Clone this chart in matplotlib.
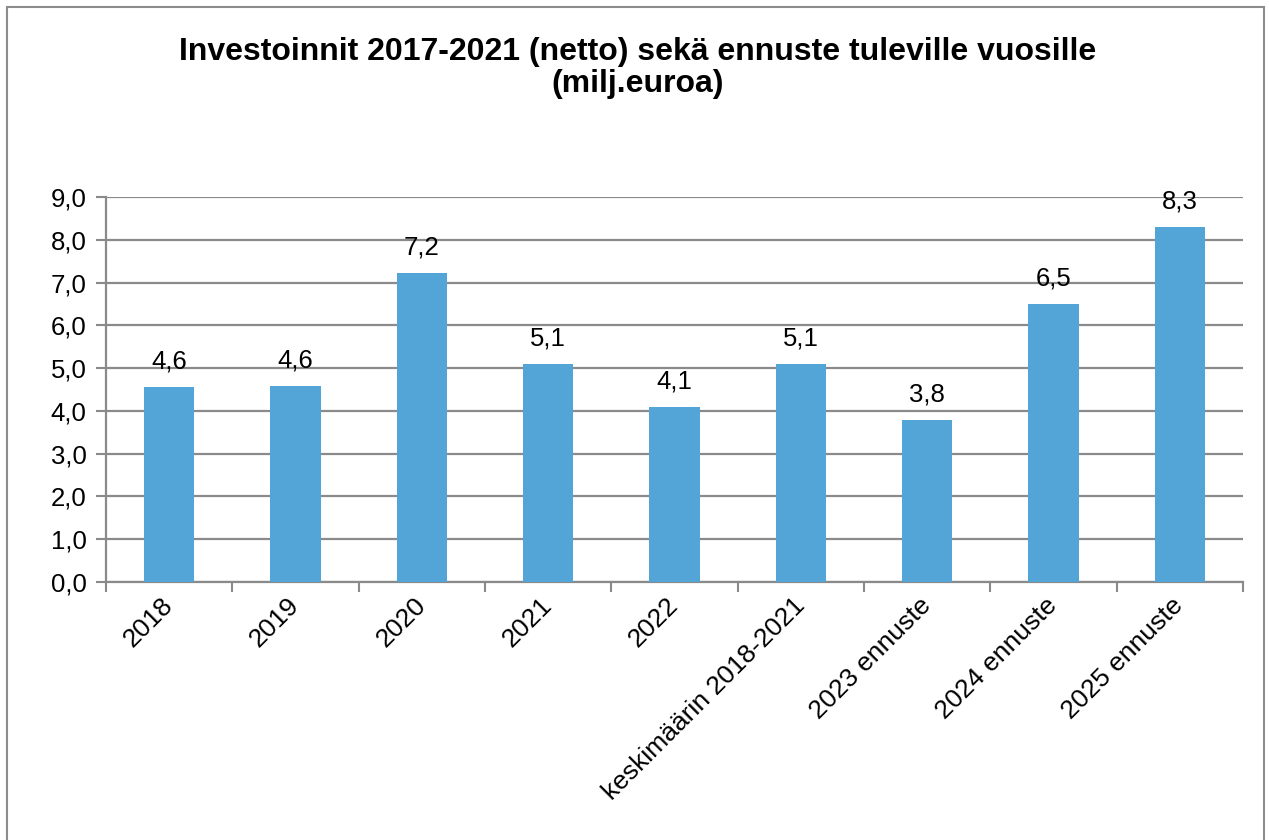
import matplotlib.pyplot as plt
from matplotlib.patches import Rectangle
import numpy as np

plt.rcParams['font.family'] = ['Liberation Sans', 'DejaVu Sans']

categories = ['2018', '2019', '2020', '2021', '2022', 'keskimäärin 2018-2021',
              '2023 ennuste', '2024 ennuste', '2025 ennuste']
values = [4.56, 4.58, 7.22, 5.09, 4.09, 5.09, 3.79, 6.50, 8.30]
yticks = np.arange(0, 10, 1.0)

fig = plt.figure(figsize=(12.69, 8.4), dpi=100)
fig.patches.append(Rectangle((7 / 1269, -0.01), 1257 / 1269, 1 - 7 / 840 + 0.01,
                             transform=fig.transFigure, fill=False,
                             edgecolor='#8c8c8c', linewidth=1.5))

ax = fig.add_axes([106 / 1269, 1 - 582 / 840, 1137 / 1269, 385 / 840])
x = np.arange(len(categories))
bars = ax.bar(x, values, width=0.4, color='#52a5d6', zorder=3)

for xi, v in zip(x, values):
    ax.annotate(f'{v:.1f}'.replace('.', ','), (xi, v), xytext=(0, 13.5),
                textcoords='offset points', ha='center', va='baseline',
                fontsize=18.5, zorder=4)

ax.set_xlim(-0.5, len(categories) - 0.5)
ax.set_ylim(0, 9)
ax.set_yticks(yticks)
ax.set_yticklabels([f'{t:.1f}'.replace('.', ',') for t in yticks], fontsize=18.5)
ax.yaxis.grid(True, color='#8a8a8a', linewidth=1.6, zorder=0)

ax.set_xticks(np.arange(len(categories) + 1) - 0.5, minor=False)
ax.set_xticklabels([])
ax.set_xticks(x, minor=True)
ax.set_xticklabels(categories, minor=True, rotation=45, ha='right', va='center',
                   rotation_mode='anchor', fontsize=19)
ax.tick_params(axis='x', which='minor', length=0, pad=14)
ax.tick_params(axis='x', which='major', length=7, color='#8a8a8a', width=1.5)
ax.tick_params(axis='y', length=7, color='#8a8a8a', width=1.5, pad=7)

for s in ['top', 'right']:
    ax.spines[s].set_visible(False)
for s in ['left', 'bottom']:
    ax.spines[s].set_color('#8a8a8a')
    ax.spines[s].set_linewidth(1.6)

fig.text(638 / 1269, 1 - 68 / 840,
         'Investoinnit 2017-2021 (netto) sekä ennuste tuleville vuosille\n(milj.euroa)',
         ha='center', va='center', fontsize=23, fontweight='bold', linespacing=1.12)

fig.savefig('out.png', dpi=100)
